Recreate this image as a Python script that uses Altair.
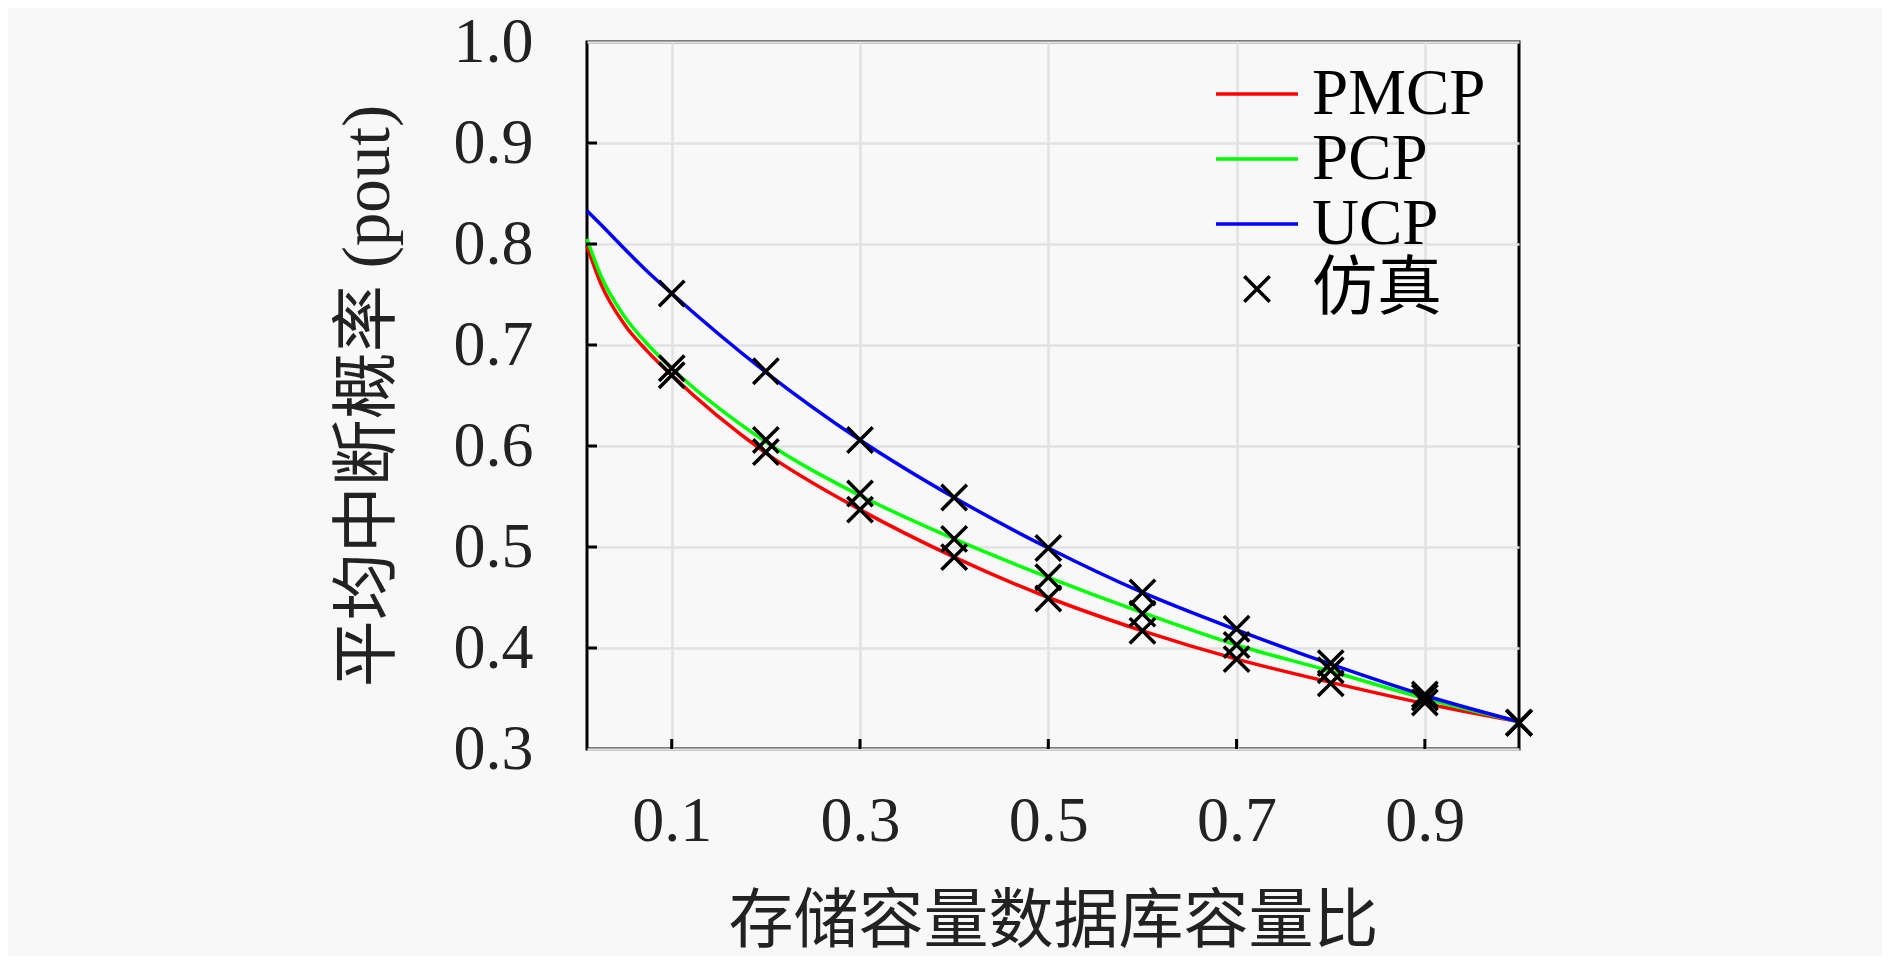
import altair as alt
import pandas as pd

# ---- data ----
series_names = ["PMCP", "PCP", "UCP"]
sim_name = "仿真"

x_curve = [0.01, 0.025, 0.05, 0.075, 0.1, 0.2, 0.3, 0.4, 0.5, 0.6, 0.7, 0.8, 0.9, 1.0]
pmcp_curve = [0.798, 0.760, 0.720, 0.693, 0.670, 0.593, 0.537, 0.490, 0.450, 0.417, 0.389, 0.366, 0.345, 0.327]
pcp_curve = [0.805, 0.768, 0.728, 0.700, 0.677, 0.604, 0.551, 0.508, 0.470, 0.435, 0.403, 0.377, 0.350, 0.327]
ucp_curve = [0.833, 0.819, 0.795, 0.772, 0.751, 0.673, 0.606, 0.549, 0.499, 0.455, 0.418, 0.384, 0.353, 0.327]

x_sim = [0.1, 0.2, 0.3, 0.4, 0.5, 0.6, 0.7, 0.8, 0.9, 1.0]
pmcp_sim = [0.670, 0.594, 0.537, 0.490, 0.449, 0.417, 0.389, 0.365, 0.346, 0.326]
pcp_sim = [0.677, 0.606, 0.553, 0.508, 0.470, 0.434, 0.403, 0.378, 0.351, 0.326]
ucp_sim = [0.751, 0.674, 0.606, 0.549, 0.499, 0.455, 0.419, 0.385, 0.354, 0.326]

x_tick_values = [0.1, 0.3, 0.5, 0.7, 0.9]
y_tick_values = [0.3, 0.4, 0.5, 0.6, 0.7, 0.8, 0.9, 1.0]
y_inner_ticks = [0.4, 0.5, 0.6, 0.7, 0.8, 0.9]

x_title = "存储容量数据库容量比"
y_title = "平均中断概率 (pout)"

# ---- tables ----
curve_rows = []
for name, vals in zip(series_names, [pmcp_curve, pcp_curve, ucp_curve]):
    for xv, yv in zip(x_curve, vals):
        curve_rows.append({"x": xv, "y": yv, "label": name})
curves = pd.DataFrame(curve_rows)

sim_rows = []
for vals in [pmcp_sim, pcp_sim, ucp_sim]:
    for xv, yv in zip(x_sim, vals):
        sim_rows.append({"x": xv, "y": yv, "label": sim_name})
sims = pd.DataFrame(sim_rows)

W, H = 932, 707
FONT = "Liberation Serif, Noto Sans CJK SC"
BG = "#f8f8f8"

legend_domain = series_names + [sim_name]
color_scale = alt.Scale(domain=legend_domain, range=["#ff0000", "#00ff00", "#0000ff", "#000000"])
line_path = "M-1,0L1,0"
cross_path = "M-0.31,-0.31L0.31,0.31M-0.31,0.31L0.31,-0.31"
shape_scale = alt.Scale(domain=legend_domain, range=[line_path, line_path, line_path, cross_path])

legend = alt.Legend(
    title=None, orient="none", legendX=627, legendY=24, padding=0,
    symbolSize=6724, symbolStrokeWidth=3.5, labelFontSize=65, labelFont=FONT,
    labelLimit=400, rowPadding=0, clipHeight=56, labelOffset=12, labelColor="black",
)

x_enc = alt.X("x:Q", scale=alt.Scale(domain=[0.01, 1.0], nice=False, zero=False),
              axis=alt.Axis(values=x_tick_values, format=".1f", title=x_title,
                            grid=True, gridColor="#e2e2e2", gridWidth=2.5,
                            domain=False, ticks=False, labelFontSize=64, labelFont=FONT,
                            labelPadding=40, titleFontSize=65, titleFont=FONT,
                            titleFontWeight="normal", titlePadding=37,
                            labelColor="#222", titleColor="#222"))
y_enc = alt.Y("y:Q", scale=alt.Scale(domain=[0.3, 1.0], nice=False, zero=False),
              axis=alt.Axis(values=y_tick_values, format=".1f", title=y_title,
                            grid=True, gridColor="#e2e2e2", gridWidth=2.5,
                            domain=False, ticks=False, labelFontSize=64, labelFont=FONT,
                            labelPadding=54, titleFontSize=67, titleFont=FONT,
                            titleFontWeight="normal", titlePadding=51,
                            labelColor="#222", titleColor="#222"))

lines = alt.Chart(curves).mark_line(strokeWidth=3.5, interpolate="monotone").encode(
    x=x_enc, y=y_enc,
    color=alt.Color("label:N", scale=color_scale, legend=legend, sort=legend_domain),
    detail="label:N",
)

points = alt.Chart(sims).mark_point(filled=False, size=6724, strokeWidth=3.5, opacity=1).encode(
    x="x:Q", y="y:Q",
    color=alt.Color("label:N", scale=color_scale, legend=legend, sort=legend_domain),
    shape=alt.Shape("label:N", scale=shape_scale, legend=legend, sort=legend_domain),
)

yticks = alt.Chart(pd.DataFrame({"y": y_inner_ticks})).mark_rule(color="black", strokeWidth=3).encode(
    y="y:Q", x=alt.value(0), x2=alt.value(10)
)
xticks = alt.Chart(pd.DataFrame({"x": x_tick_values})).mark_rule(color="black", strokeWidth=3).encode(
    x="x:Q", y=alt.value(H), y2=alt.value(H - 10)
)

chart = alt.layer(lines, points, yticks, xticks).properties(
    width=W, height=H,
    background=BG,
    autosize=alt.AutoSizeParams(type="none"),
    padding={"left": 579, "top": 34, "right": 363, "bottom": 207},
).configure_view(stroke="black", strokeWidth=3, fill=BG)

chart.save("out.html", embed_options={"renderer": "svg", "actions": False})
